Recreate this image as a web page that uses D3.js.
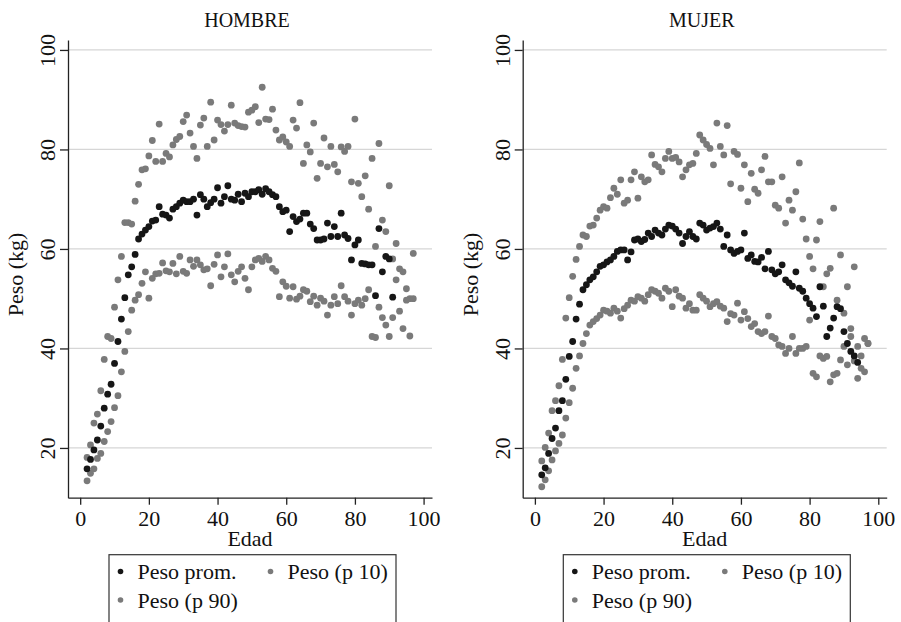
<!DOCTYPE html>
<html>
<head>
<meta charset="utf-8">
<script src="https://cdn.jsdelivr.net/npm/d3@7"></script>
<style>
  body { margin: 0; background: #fff; }
  svg { display: block; }
  text { font-family: "Liberation Serif", "DejaVu Serif", serif; fill: #111; }
</style>
</head>
<body>
<div id="chart"></div>
<script>
// every series starts at age 2, one value per year of age
var startAge = 2;

var hombreProm = [15.8,17.7,19.6,21.6,24.4,28.0,30.8,32.8,37.0,41.4,
  45.9,50.2,54.8,56.4,58.9,62.0,63.0,63.8,64.5,65.6,
  65.8,68.5,67.0,66.8,66.2,68.0,68.5,69.2,69.8,69.5,
  69.5,70.0,66.8,70.9,70.0,68.5,69.3,70.0,72.3,69.2,
  70.5,72.7,70.0,69.8,71.0,69.5,71.2,70.5,71.5,71.5,
  71.9,71.0,72.1,71.5,70.9,70.5,68.5,67.5,67.8,63.5,
  66.5,65.5,66.0,67.2,67.2,65.0,64.1,61.8,61.8,62.0,
  65.2,62.5,64.5,62.5,67.2,62.8,62.1,57.8,60.8,61.8,
  57.1,57.0,56.8,56.8,50.6,64.1,55.4,58.5,58.0,50.3];

var hombreP90 = [18.1,20.6,25.0,26.8,31.5,37.8,42.4,42.0,48.3,53.8,
  58.5,65.3,65.3,65.0,69.6,73.0,75.9,76.1,78.7,81.8,
  77.6,85.1,77.6,79.2,78.5,80.9,82.0,82.6,85.6,86.9,
  83.3,80.6,78.2,84.9,86.3,80.6,89.5,81.9,85.9,85.0,
  83.7,85.0,88.9,85.3,84.8,84.6,84.5,87.5,87.9,88.6,
  85.4,92.5,86.1,86.0,88.1,83.9,81.9,82.5,81.5,80.6,
  85.9,84.3,89.4,77.2,80.9,79.5,85.3,74.2,77.2,82.3,
  76.5,80.6,77.0,75.5,80.5,79.6,80.6,73.5,86.1,73.2,
  70.5,74.7,68.0,78.2,60.5,81.2,65.8,63.5,72.7,58.0,
  61.1,56.0,55.4,52.0,50.0,59.1];

var hombreP10 = [13.4,14.9,15.8,17.9,18.9,21.3,23.3,25.3,28.1,30.5,
  35.3,39.4,43.4,47.7,49.7,50.8,53.1,55.4,50.1,54.1,
  55.0,55.1,57.2,55.6,55.4,57.1,55.0,58.5,55.5,55.1,
  57.8,56.5,57.8,56.8,55.8,56.0,52.6,56.9,58.8,54.4,
  56.4,59.0,54.8,53.4,55.5,56.4,54.1,51.8,56.4,57.8,
  58.1,57.5,58.5,57.8,56.1,55.5,50.4,53.4,52.5,50.1,
  52.4,49.9,50.5,51.8,51.5,49.4,50.5,48.7,50.1,49.5,
  46.7,48.7,50.4,49.0,52.6,50.4,49.5,46.7,49.0,49.7,
  48.7,50.0,51.8,42.4,42.2,48.3,46.2,44.7,42.4,46.2,
  53.8,47.5,44.0,49.7,42.5,50.0];

var mujerProm = [14.6,16.0,18.9,21.9,24.0,27.5,29.5,33.8,38.4,41.4,
  45.9,48.9,51.8,52.8,53.8,54.4,55.4,56.5,56.8,57.4,
  57.8,58.5,59.5,59.8,59.8,57.8,59.4,61.8,62.0,61.5,
  61.9,63.2,62.5,63.8,63.2,62.8,64.0,64.8,64.6,64.0,
  63.2,61.1,62.5,63.5,62.5,62.0,65.2,64.8,63.8,64.2,
  64.5,65.2,64.0,60.5,62.8,59.8,59.1,59.5,59.8,63.2,
  58.1,58.8,57.5,57.4,58.3,56.0,59.5,55.8,55.0,55.4,
  56.8,53.8,53.2,52.5,55.4,52.1,51.5,50.1,49.0,48.1,
  46.4,52.4,48.5,42.4,44.1,46.1,48.4,48.0,43.4,41.0,
  39.4,38.5,37.2];

var mujerP90 = [17.4,20.1,23.0,27.5,29.5,32.5,37.8,46.1,50.2,54.5,
  57.9,60.5,62.8,62.5,64.6,64.8,66.2,67.8,68.5,68.2,
  70.3,72.2,71.0,73.9,69.2,69.8,73.9,75.5,70.2,74.5,
  73.5,73.9,78.9,77.0,76.5,75.5,78.2,79.6,78.2,78.4,
  77.5,74.5,75.9,76.9,77.2,79.2,82.9,81.9,81.0,80.2,
  76.9,85.3,80.6,78.9,84.8,73.1,79.6,79.0,72.2,76.9,
  69.5,75.2,72.0,71.2,75.9,78.6,73.5,73.5,68.8,68.2,
  74.5,65.2,69.8,67.8,71.5,77.3,66.0,62.0,58.5,56.0,
  61.8,65.5,52.4,55.0,56.1,68.2,49.7,58.8,47.1,52.4,
  44.0,56.4,40.4,38.5,42.0,41.0];

var mujerP10 = [12.2,13.6,15.4,17.6,19.4,20.9,22.6,26.0,29.1,32.0,
  36.0,38.5,41.0,43.0,44.7,45.4,46.0,46.7,47.7,47.5,
  47.1,48.1,47.5,46.1,48.0,48.7,49.7,49.5,50.4,50.1,
  49.5,50.8,51.8,51.5,51.1,50.1,52.1,51.5,48.4,51.8,
  50.5,50.1,48.1,49.0,47.7,47.7,50.8,50.1,49.5,48.4,
  49.0,49.4,48.5,48.1,45.4,47.0,46.7,49.1,45.7,47.4,
  46.0,44.4,45.0,43.4,43.0,43.4,46.5,42.4,42.0,40.7,
  40.4,39.0,40.0,42.4,39.0,40.0,40.0,40.4,45.7,35.0,
  34.3,38.5,38.0,38.4,33.3,34.7,35.0,37.7,40.4,36.7,
  42.4,37.5,34.0,36.0,35.3,41.0];

var xTicks = [0, 20, 40, 60, 80, 100];
var yTicks = [20, 40, 60, 80, 100];
var legendLabels = ["Peso prom.", "Peso (p 10)", "Peso (p 90)"];
var seriesColors = ["#161616", "#7a7a7a", "#7a7a7a"];

var width = 901, height = 622;
var svg = d3.select("#chart").append("svg")
  .attr("width", width)
  .attr("height", height);

function toPoints(values) {
  return values.map(function(v, i) { return {age: startAge + i, peso: v}; });
}

function drawPanel(panel) {
  var x = d3.scaleLinear().domain([-3.55, 102.45]).range([panel.left, panel.right]);
  var y = d3.scaleLinear().domain([10, 102]).range([497.7, 40]);
  var mid = (panel.left + panel.right) / 2;

  var g = svg.append("g");

  // gridlines
  g.selectAll(".grid")
    .data(yTicks)
    .enter()
    .append("line")
    .attr("x1", panel.left)
    .attr("x2", panel.right)
    .attr("y1", function(d) { return y(d); })
    .attr("y2", function(d) { return y(d); })
    .attr("stroke", "#d6d6d6")
    .attr("stroke-width", 1.2);

  // y axis
  var yAxis = g.append("g")
    .attr("transform", "translate(" + panel.left + ",0)")
    .call(d3.axisLeft(y).tickValues(yTicks).tickSize(8).tickSizeOuter(0));
  yAxis.selectAll("text")
    .attr("x", null)
    .attr("dy", null)
    .attr("transform", "translate(-13,0) rotate(-90)")
    .attr("text-anchor", "middle");

  // x axis
  var xAxis = g.append("g")
    .attr("transform", "translate(0,497.7)")
    .call(d3.axisBottom(x).tickValues(xTicks).tickSize(7).tickSizeOuter(0));
  xAxis.selectAll("text")
    .attr("y", 13)
    .attr("dy", "0.71em");

  g.selectAll(".domain, .tick line")
    .attr("stroke", "#222")
    .attr("stroke-width", 1.3);
  g.selectAll(".tick text")
    .attr("fill", "#111")
    .style("font-family", '"Liberation Serif", "DejaVu Serif", serif')
    .style("font-size", "22px");

  // titles
  g.append("text")
    .attr("x", mid - 3)
    .attr("y", 27)
    .attr("text-anchor", "middle")
    .style("font-size", "20px")
    .text(panel.title);

  g.append("text")
    .attr("x", mid)
    .attr("y", 546)
    .attr("text-anchor", "middle")
    .style("font-size", "22px")
    .text("Edad");

  g.append("text")
    .attr("transform", "translate(" + (panel.left - 45) + ",274.5) rotate(-90)")
    .attr("text-anchor", "middle")
    .style("font-size", "22px")
    .text("Peso (kg)");

  // points: p90, p10, then the mean on top
  var series = [
    {values: panel.p90, color: seriesColors[2]},
    {values: panel.p10, color: seriesColors[1]},
    {values: panel.prom, color: seriesColors[0]}
  ];
  series.forEach(function(s) {
    g.append("g")
      .selectAll("circle")
      .data(toPoints(s.values))
      .enter()
      .append("circle")
      .attr("cx", function(d) { return x(d.age); })
      .attr("cy", function(d) { return y(d.peso); })
      .attr("r", 3.4)
      .attr("fill", s.color);
  });

  // legend (box runs past the bottom edge, as in the original)
  var lx = panel.legendLeft;
  var legend = g.append("g");
  legend.append("rect")
    .attr("x", lx)
    .attr("y", 554.7)
    .attr("width", 287)
    .attr("height", 80)
    .attr("fill", "none")
    .attr("stroke", "#333")
    .attr("stroke-width", 1.2);

  var items = [
    {dx: 11.5, y: 571.5, label: legendLabels[0], color: seriesColors[0]},
    {dx: 161.5, y: 571.5, label: legendLabels[1], color: seriesColors[1]},
    {dx: 11.5, y: 600, label: legendLabels[2], color: seriesColors[2]}
  ];
  items.forEach(function(it) {
    legend.append("circle")
      .attr("cx", lx + it.dx)
      .attr("cy", it.y)
      .attr("r", 2.8)
      .attr("fill", it.color);
    legend.append("text")
      .attr("x", lx + it.dx + 17)
      .attr("y", it.y + 7.5)
      .style("font-size", "22px")
      .text(it.label);
  });
}

drawPanel({title: "HOMBRE", left: 68, right: 432, legendLeft: 109,
  prom: hombreProm, p10: hombreP10, p90: hombreP90});
drawPanel({title: "MUJER", left: 522.7, right: 886.7, legendLeft: 563.3,
  prom: mujerProm, p10: mujerP10, p90: mujerP90});
</script>
</body>
</html>
